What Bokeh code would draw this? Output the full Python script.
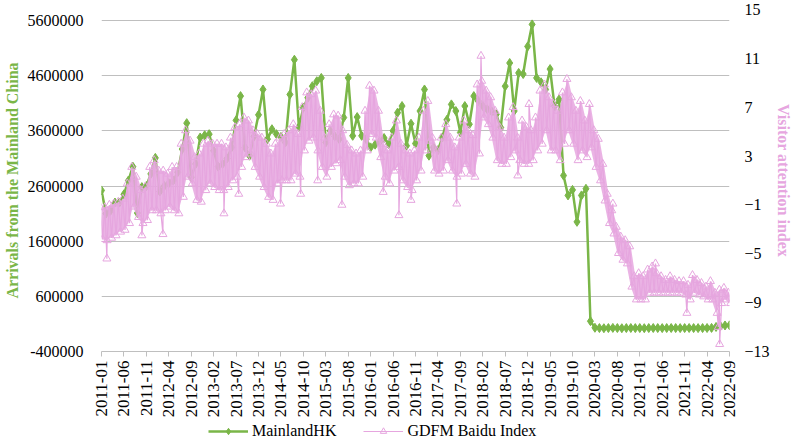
import math
from bokeh.plotting import figure
from bokeh.layouts import column
from bokeh.models import (Range1d, LinearAxis, FixedTicker, Legend, LegendItem,
                          NumeralTickFormatter)
from bokeh.embed import file_html
from bokeh.resources import INLINE

# ---------------- data ----------------
tick_labels = ["2011-01", "2011-06", "2011-11", "2012-04", "2012-09", "2013-02",
               "2013-07", "2013-12", "2014-05", "2014-10", "2015-03", "2015-08",
               "2016-01", "2016-06", "2016-11", "2017-04", "2017-09", "2018-02",
               "2018-07", "2018-12", "2019-05", "2019-10", "2020-03", "2020-08",
               "2021-01", "2021-06", "2021-11", "2022-04", "2022-09"]

# MainlandHK monthly arrivals, 2011-01 .. 2022-09
mainland_hk = [
    2520000, 2100000, 2150000, 2300000, 2300000, 2450000, 2700000, 2950000, 2110000, 2580000,
    2600000, 2820000, 3110000, 2500000, 2600000, 2650000, 2700000, 2850000, 3270000, 3740000,
    2760000, 3000000, 3480000, 3520000, 3540000, 3240000, 2950000, 3000000, 3100000, 3300000,
    3790000, 4230000, 3300000, 3150000, 3500000, 3890000, 4350000, 3450000, 3630000, 3540000,
    3490000, 3390000, 4260000, 4890000, 3670000, 4020000, 4200000, 4410000, 4500000, 4560000,
    3390000, 3600000, 3500000, 3450000, 3840000, 4560000, 3510000, 3850000, 3510000, 3450000,
    3300000, 3350000, 3400000, 3470000, 3360000, 3600000, 3930000, 4050000, 3330000, 3730000,
    3370000, 3960000, 4350000, 3150000, 3300000, 3250000, 3480000, 3800000, 4080000, 3960000,
    3570000, 4050000, 3720000, 4230000, 4140000, 4050000, 3990000, 3950000, 3900000, 3660000,
    4410000, 4830000, 3960000, 4650000, 4630000, 5130000, 5530000, 4560000, 4480000, 4350000,
    4720000, 4050000, 4170000, 2790000, 2430000, 2530000, 1950000, 2430000, 2550000, 150000,
    30000, 25000, 22000, 25000, 28000, 25000, 22000, 25000, 26000, 24000,
    25000, 23000, 25000, 26000, 25000, 24000, 25000, 26000, 25000, 24000,
    25000, 26000, 25000, 24000, 25000, 26000, 28000, 45000, 60000, 72000,
    75000]

# GDFM Baidu Index: upper and lower edge of the band, per month
baidu_high = [
    -1.2, -1.2, -1.0, -0.9, -0.75, -0.5, 0.75, 2.1, 1.3, 0.2,
    0.5, 2.1, 2.65, 1.8, 1.8, 1.55, 2.1, 2.1, 4.0, 5.1,
    4.25, 2.9, 3.2, 4.0, 4.25, 4.0, 4.0, 4.0, 3.7, 4.5,
    5.35, 5.6, 6.15, 5.9, 5.1, 4.8, 4.5, 4.0, 3.2, 4.0,
    4.5, 4.8, 5.1, 5.6, 4.8, 7.0, 8.2, 8.05, 8.35, 6.7,
    4.5, 5.6, 6.4, 6.3, 5.1, 3.9, 3.45, 3.2, 3.45, 6.7,
    8.75, 8.35, 6.7, 4.0, 3.45, 4.5, 5.9, 4.0, 3.45, 3.2,
    3.45, 4.5, 6.7, 7.5, 4.5, 3.45, 4.5, 5.6, 4.5, 3.7,
    4.5, 5.9, 5.1, 4.7, 8.85, 9.15, 8.35, 7.8, 6.7, 5.35,
    4.5, 6.15, 7.0, 4.5, 5.9, 5.35, 5.1, 6.15, 8.35, 8.85,
    7.8, 7.25, 6.7, 8.2, 9.3, 7.8, 6.7, 7.5, 5.9, 7.25,
    5.1, 4.4, 2.35, -0.1, -1.45, -2.8, -3.6, -3.9, -4.4, -6.85,
    -6.6, -6.85, -6.3, -6.05, -6.6, -6.85, -7.15, -6.85, -7.15, -7.25,
    -7.25, -7.55, -6.75, -7.15, -7.4, -7.7, -7.25, -8.2, -7.95, -7.8,
    -8.2]
baidu_low = [
    -3.8, -3.9, -3.7, -3.5, -3.2, -3.05, -2.5, -1.15, -2.0, -2.5,
    -2.25, -1.45, -1.45, -1.7, -1.45, -1.15, -1.45, -1.7, -0.35, 1.3,
    0.75, -0.6, -0.75, 0.2, 0.75, 0.45, 0.2, 0.2, 0.45, 1.0,
    1.3, 2.1, 2.9, 3.2, 2.1, 1.3, 0.45, -0.35, -0.6, 0.75,
    1.0, 1.0, 1.0, 1.55, 1.3, 3.45, 4.25, 4.5, 3.45, 2.1,
    1.3, 2.1, 2.4, 2.65, 1.3, 0.6, 0.75, 0.75, 1.3, 3.45,
    4.8, 4.5, 2.9, 1.3, 0.75, 1.8, 2.1, 1.0, 0.45, 0.2,
    1.0, 1.8, 3.45, 4.25, 1.8, 1.55, 1.8, 2.65, 1.8, 1.3,
    1.55, 2.35, 1.55, 1.3, 3.2, 6.15, 5.6, 4.5, 2.65, 2.35,
    2.35, 2.9, 3.45, 2.65, 2.35, 2.35, 2.65, 3.45, 4.0, 5.1,
    3.45, 3.45, 2.65, 4.0, 5.1, 4.0, 2.65, 3.45, 2.9, 3.7,
    2.1, 1.0, -0.65, -2.5, -3.35, -4.95, -5.5, -5.8, -7.7, -8.75,
    -8.75, -8.75, -8.2, -8.2, -8.2, -8.2, -8.2, -8.2, -8.2, -8.2,
    -8.35, -8.75, -8.2, -8.35, -8.5, -8.75, -8.75, -9.85, -9.05, -8.75,
    -9.05]

# isolated spikes of the daily index (month position, value)
spike_month = [1.2, 9.0, 13.7, 27.3, 30.6, 39.9, 44.4, 48.2, 53.6, 62.8,
               66.3, 69.0, 79.2, 84.6, 92.8, 95.3, 114.0, 123.5, 130.5, 137.5,
               137.8]
spike_value = [-5.4, -3.5, -3.4, -1.7, -0.1, -0.9, -0.1, 1.0, -1.0, 0.05,
               -1.85, -0.6, -0.9, 11.2, 1.4, 7.25, -0.9, -5.8, -9.85, -11.0,
               -12.4]

# ---------------- build ----------------
GREEN = "#7ab648"
PINK = "#e6a6df"
FONT = "Liberation Serif"

months = list(range(len(mainland_hk)))
pts = []
for i, (h, l) in enumerate(zip(baidu_high, baidu_low)):
    pts.append((i - 0.25, h))
    pts.append((i + 0.25, l))
pts += list(zip(spike_month, spike_value))
pts.sort()
px = [a for a, b in pts]
py = [b for a, b in pts]

left_ticks = list(range(-400000, 5600001, 1000000))
right_ticks = list(range(-13, 16, 4))
tick_pos = list(range(0, len(mainland_hk), 5))

p = figure(frame_width=628, frame_height=342, output_backend="svg",
           toolbar_location=None,
           x_range=Range1d(0, len(mainland_hk) - 1),
           y_range=Range1d(-400000, 5800000),
           min_border_left=92, min_border_right=0, min_border_top=9,
           min_border_bottom=0)
p.outline_line_color = None
p.extra_y_ranges = {"right": Range1d(-13, 15)}

# x axis
xa = p.xaxis[0]
xa.axis_label = None
xa.ticker = FixedTicker(ticks=tick_pos)
xa.major_label_overrides = {pos: lab for pos, lab in zip(tick_pos, tick_labels)}
xa.major_label_orientation = math.pi / 2
xa.axis_line_color = "#bfbfbf"
xa.major_tick_line_color = "#bfbfbf"
xa.major_tick_out = 5
xa.major_tick_in = 0
xa.minor_tick_line_color = None
xa.major_label_text_font = FONT
xa.major_label_text_font_size = "17px"
xa.major_label_text_color = "#000000"
xa.major_label_standoff = 4

# left axis
ya = p.yaxis[0]
ya.ticker = FixedTicker(ticks=left_ticks)
ya.formatter = NumeralTickFormatter(format="0")
ya.axis_line_color = None
ya.major_tick_line_color = None
ya.minor_tick_line_color = None
ya.major_label_text_font = FONT
ya.major_label_text_font_size = "16px"
ya.major_label_text_color = "#000000"
ya.major_label_standoff = 12
ya.axis_label = "Arrivals from the Mainland China"
ya.axis_label_text_font = FONT
ya.axis_label_text_font_style = "bold"
ya.axis_label_text_font_size = "16px"
ya.axis_label_text_color = GREEN
ya.axis_label_standoff = 4

# right axis
ra = LinearAxis(y_range_name="right", ticker=FixedTicker(ticks=right_ticks))
ra.axis_line_color = None
ra.major_tick_line_color = None
ra.minor_tick_line_color = None
ra.major_label_text_font = FONT
ra.major_label_text_font_size = "16px"
ra.major_label_text_color = "#000000"
ra.major_label_standoff = 9
ra.axis_label = "Visitor attention index"
ra.axis_label_text_font = FONT
ra.axis_label_text_font_style = "bold"
ra.axis_label_text_font_size = "16px"
ra.axis_label_text_color = PINK
ra.axis_label_standoff = 2
p.add_layout(ra, "right")

p.xgrid.visible = False
p.ygrid.ticker = FixedTicker(ticks=left_ticks)
p.ygrid.grid_line_color = "#bfbfbf"
p.ygrid.grid_line_width = 1.2

# series
p.line(months, mainland_hk, line_color=GREEN, line_width=2.5)
p.scatter(months, mainland_hk, marker="diamond", size=9,
          fill_color=GREEN, line_color=GREEN)
p.varea(x=months, y1=baidu_low, y2=baidu_high, y_range_name="right",
        fill_color=PINK, fill_alpha=0.85)
p.line(px, py, y_range_name="right", line_color=PINK, line_width=1.2)
p.scatter(px, py, y_range_name="right", marker="triangle", size=8,
          line_color=PINK, fill_color=None, line_width=1)

# legend strip below the chart (series re-drawn out of view, for the keys only)
pl = figure(width=780, height=22, output_backend="svg", toolbar_location=None,
            x_axis_type=None, y_axis_type=None, min_border=0,
            x_range=Range1d(-1000, -999), y_range=Range1d(-1000, -999))
pl.outline_line_color = None
pl.xgrid.visible = False
pl.ygrid.visible = False
lg1 = pl.line(months, mainland_hk, line_color=GREEN, line_width=2.5)
lg2 = pl.scatter(months, mainland_hk, marker="diamond", size=9,
                 fill_color=GREEN, line_color=GREEN)
lp1 = pl.line(px, py, line_color=PINK, line_width=1.2)
lp2 = pl.scatter(px, py, marker="triangle", size=8, line_color=PINK,
                 fill_color=None, line_width=1)
legend = Legend(items=[LegendItem(label="MainlandHK", renderers=[lg1, lg2]),
                       LegendItem(label="GDFM Baidu Index", renderers=[lp1, lp2])],
                orientation="horizontal", location=(107, 2),
                label_text_font=FONT, label_text_font_size="16px",
                label_text_color="#000000", label_height=16,
                glyph_width=40, glyph_height=16, spacing=27, padding=1, margin=0,
                label_standoff=4, border_line_color=None, background_fill_alpha=0)
pl.add_layout(legend)

layout = column(p, pl, spacing=0)
open("out.html", "w").write(file_html(layout, INLINE))
